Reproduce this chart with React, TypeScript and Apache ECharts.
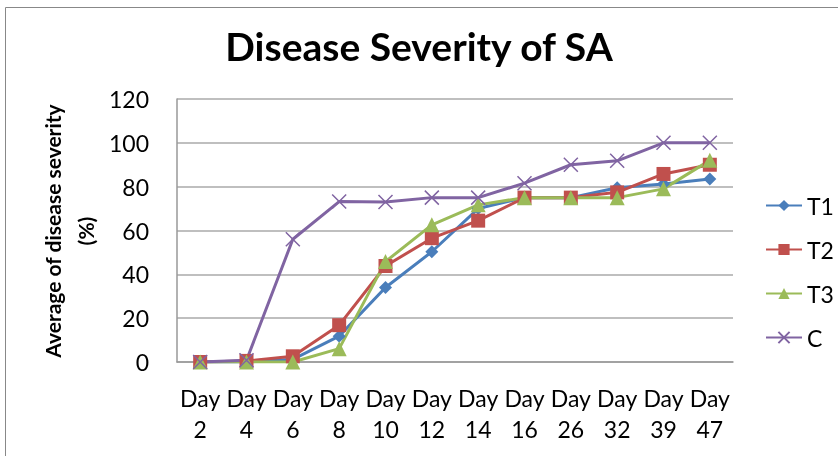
import React, { useEffect, useRef } from "react";
import * as echarts from "echarts";

const categories = ["Day\n2", "Day\n4", "Day\n6", "Day\n8", "Day\n10", "Day\n12", "Day\n14", "Day\n16", "Day\n26", "Day\n32", "Day\n39", "Day\n47"];
const t1 = [0, 0, 1.2, 11.8, 34, 50.3, 70, 75, 75, 79.5, 81.2, 83.5];
const t2 = [0, 0.5, 2.6, 16.8, 43.8, 56.5, 64.5, 75, 75, 77.4, 85.8, 90];
const t3 = [0, 0, 0, 6.1, 45.8, 62.6, 71.7, 75, 75, 75, 79, 92];
const c = [0, 0.8, 56, 73.2, 73, 75, 75, 81.6, 90, 91.8, 100, 100];
const yTicks = { min: 0, max: 120, interval: 20 };

const FONT = "Lato, 'Open Sans', sans-serif";

export default function App() {
  const ref = useRef<HTMLDivElement>(null);
  useEffect(() => {
    if (!ref.current) return;
    const chart = echarts.init(ref.current, undefined, { renderer: "svg" });
    const mk = (name: string, data: number[], color: string, symbol: string, size: number, extra: any = {}) => ({
      name,
      type: "line",
      data,
      symbol,
      symbolSize: size,
      lineStyle: { color, width: 3 },
      itemStyle: { color },
      ...extra,
    });
    chart.setOption({
      animation: false,
      textStyle: { fontFamily: FONT },
      title: {
        text: "Disease Severity of SA",
        left: "center",
        top: 21,
        textStyle: { fontFamily: FONT, fontSize: 39, fontWeight: "bold", color: "#000" },
      },
      graphic: [
        {
          type: "rect",
          shape: { x: 5.5, y: 7.5, width: 860, height: 470 },
          style: { fill: "none", stroke: "#888", lineWidth: 1 },
          silent: true,
        },
        {
          type: "text",
          x: 69,
          y: 231,
          rotation: Math.PI / 2,
          style: {
            text: "Average of disease severity\n(%)",
            fontFamily: FONT,
            fontSize: 21,
            fontWeight: "bold",
            lineHeight: 33,
            fill: "#000",
            align: "center",
            verticalAlign: "middle",
          },
        },
      ],
      legend: {
        orient: "vertical",
        left: 760,
        top: 189,
        itemWidth: 36,
        itemHeight: 14,
        itemGap: 21,
        textStyle: { fontFamily: FONT, fontSize: 23, color: "#000" },
        data: ["T1", "T2", "T3", "C"],
      },
      grid: { left: 177, right: 105, top: 99, bottom: 94, containLabel: false },
      xAxis: {
        type: "category",
        data: categories,
        boundaryGap: true,
        axisLine: { lineStyle: { color: "#999", width: 1.5 } },
        axisTick: { show: false },
        axisLabel: { interval: 0, color: "#000", fontFamily: FONT, fontSize: 23, lineHeight: 31, margin: 20 },
      },
      yAxis: {
        type: "value",
        ...yTicks,
        axisLine: { show: true, lineStyle: { color: "#999", width: 1.5 } },
        axisTick: { show: false },
        splitLine: { lineStyle: { color: "#aaa", width: 1.5 } },
        axisLabel: { color: "#000", fontFamily: FONT, fontSize: 23, margin: 28 },
      },
      series: [
        mk("T1", t1, "#4A7EBB", "diamond", 13),
        mk("T2", t2, "#C0504D", "rect", 14),
        mk("T3", t3, "#9BBB59", "triangle", 15),
        mk("C", c, "#8064A2", "path://M0,0L10,10M10,0L0,10", 14, {
          itemStyle: { color: "#8064A2", borderColor: "#8064A2", borderWidth: 1.5 },
        }),
      ],
    });
    return () => chart.dispose();
  }, []);
  return <div ref={ref} style={{ position: "fixed", left: 0, top: 0, width: 838, height: 456 }} />;
}
